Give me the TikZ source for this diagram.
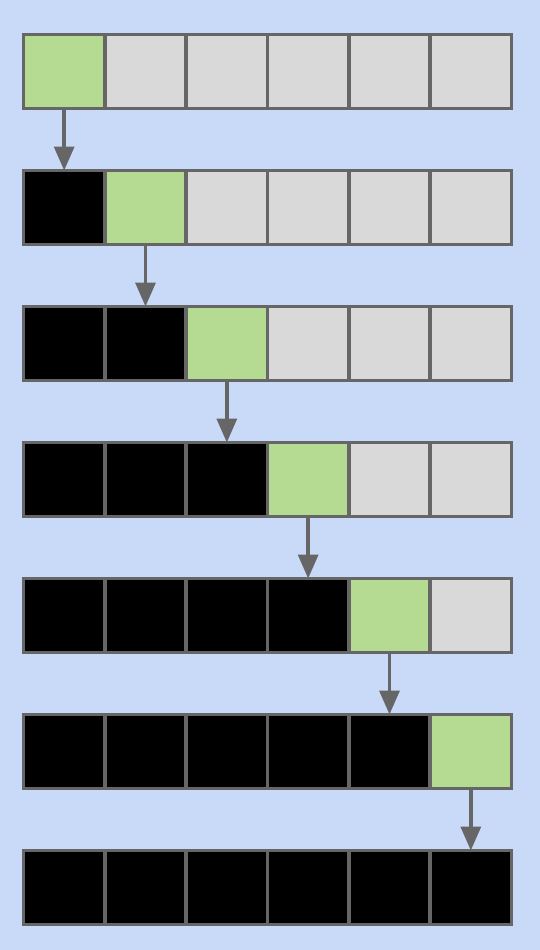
\documentclass[tikz,border=0pt]{standalone}
\usetikzlibrary{arrows.meta}
\definecolor{bgblue}{HTML}{C9DAF8}
\definecolor{cellgreen}{HTML}{B4DB91}
\definecolor{cellgray}{HTML}{D9D9D9}
\definecolor{edgegray}{HTML}{666666}
\tikzset{
  cell/.style={draw=edgegray, line width=3.5pt, minimum width=81.33pt, minimum height=74pt, inner sep=0pt, outer sep=0pt, anchor=north west},
  done/.style={cell, fill=black},
  cur/.style={cell, fill=cellgreen},
  todo/.style={cell, fill=cellgray},
  stepar/.style={draw=edgegray, line width=3.5pt, -{Triangle[width=20pt,length=24pt]}}
}
\begin{document}
\begin{tikzpicture}[x=1pt,y=-1pt]
\fill[bgblue] (0,0) rectangle (540,950);
\useasboundingbox (0,0) rectangle (540,950);
\foreach \r in {0,...,6}{
  \foreach \c in {0,...,5}{
    \pgfmathtruncatemacro{\st}{\c<\r ? 0 : (\c==\r ? 1 : 2)}
    \ifcase\st
      \node[done] (c-\r-\c) at ({23.5+81.33*\c},{34.5+136*\r}) {};
    \or
      \node[cur] (c-\r-\c) at ({23.5+81.33*\c},{34.5+136*\r}) {};
    \else
      \node[todo] (c-\r-\c) at ({23.5+81.33*\c},{34.5+136*\r}) {};
    \fi
  }
}
\foreach \r in {0,...,5}{
  \pgfmathtruncatemacro{\n}{\r+1}
  \draw[stepar] (c-\r-\r.south) -- (c-\n-\r.north);
}
\end{tikzpicture}
\end{document}
